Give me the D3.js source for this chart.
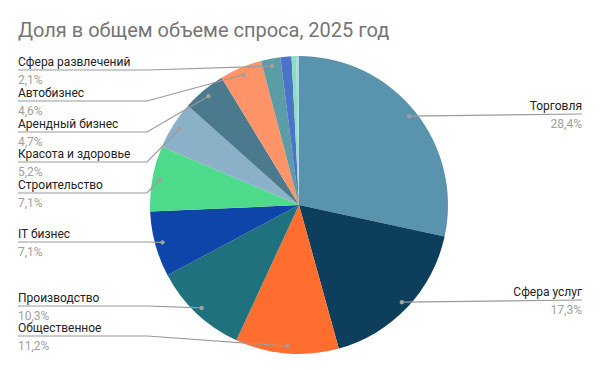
<!DOCTYPE html>
<html>
  <head>
    <meta charset="UTF-8">
    <style>
      body {
        margin: 0;
        background: #fff;
        font-family: Roboto, Arial, sans-serif;
      }
      .title {
        font-size: 20px;
        fill: #757575;
      }
      .name {
        font-size: 12px;
        fill: #222;
      }
      .pct {
        font-size: 12px;
        fill: #a0a0a0;
      }
    </style>
    <script src="https://d3js.org/d3.v7.min.js"></script>
  </head>
  <body>
    <svg id="chart"></svg>

    <script type="text/javascript">
      const categories = [
        'Торговля', 'Сфера услуг', 'Общественное', 'Производство', 'IT бизнес',
        'Строительство', 'Красота и здоровье', 'Арендный бизнес', 'Автобизнес',
        'Сфера развлечений', 'Другое 1', 'Другое 2', 'Другое 3'
      ]
      const shares = [28.4, 17.3, 11.2, 10.3, 7.1, 7.1, 5.2, 4.7, 4.6, 2.1, 1.2, 0.5, 0.3]
      const shareLabels = ['28,4%', '17,3%', '11,2%', '10,3%', '7,1%', '7,1%', '5,2%', '4,7%', '4,6%', '2,1%', '', '', '']
      const sliceColors = [
        '#5a93ad', '#0d3f5c', '#ff6d2f', '#1f727d', '#0e45a8', '#4ddb8b', '#8ab1c7',
        '#4b7a8e', '#ff9468', '#5c9ca6', '#4b74c9', '#8ae0b8', '#a7d6e6'
      ]

      // where the label underline sits (y), left or right side; null = no label
      const labelLayout = [
        { side: 'right', y: 114 },
        { side: 'right', y: 300 },
        { side: 'left', y: 336 },
        { side: 'left', y: 306 },
        { side: 'left', y: 242 },
        { side: 'left', y: 193 },
        { side: 'left', y: 162 },
        { side: 'left', y: 132 },
        { side: 'left', y: 101 },
        { side: 'left', y: 70 },
        null, null, null
      ]

      function getChartConfig() {
        let width = 601
        let height = 371
        let cx = 299
        let cy = 205
        let radius = 149
        let container = d3.select('#chart')
          .attr('width', width)
          .attr('height', height)
        return { width, height, cx, cy, radius, container }
      }

      function drawChart(config) {
        let svg = config.container
        let data = categories.map((c, i) => ({ name: c, value: shares[i], label: shareLabels[i], color: sliceColors[i], layout: labelLayout[i] }))

        svg.append('text')
          .attr('class', 'title')
          .attr('x', 18)
          .attr('y', 37)
          .text('Доля в общем объеме спроса, 2025 год')

        let pie = d3.pie()
          .sort(null)
          .value(d => d.value)

        let arc = d3.arc()
          .innerRadius(0)
          .outerRadius(config.radius)

        let g = svg.append('g')
          .attr('transform', `translate(${config.cx}, ${config.cy})`)

        let arcs = pie(data)

        g.selectAll('path')
          .data(arcs)
          .enter()
          .append('path')
          .attr('d', arc)
          .attr('fill', d => d.data.color)

        let leftX = 18
        let rightX = 582
        let elbowX = 147
        let k = 0.95

        let labelled = arcs.filter(d => d.data.layout)

        let labels = svg.append('g').attr('class', 'labels')

        labelled.forEach(d => {
          let mid = (d.startAngle + d.endAngle) / 2
          let px = config.cx + k * config.radius * Math.sin(mid)
          let py = config.cy - k * config.radius * Math.cos(mid)
          let ly = d.data.layout.y
          let pts
          if (d.data.layout.side === 'left') {
            pts = [[leftX, ly], [Math.min(elbowX, px), ly], [px, py]]
          } else {
            pts = [[px, py], [rightX, ly]]
          }

          labels.append('path')
            .attr('d', d3.line()(pts))
            .attr('fill', 'none')
            .attr('stroke', '#9a9a9a')
            .attr('stroke-width', 1.2)

          labels.append('circle')
            .attr('cx', px)
            .attr('cy', py)
            .attr('r', 2.2)
            .attr('fill', '#a0a0a0')

          let tx = d.data.layout.side === 'left' ? leftX : rightX
          let anchor = d.data.layout.side === 'left' ? 'start' : 'end'

          labels.append('text')
            .attr('class', 'name')
            .attr('x', tx)
            .attr('y', ly - 4.5)
            .attr('text-anchor', anchor)
            .text(d.data.name)

          labels.append('text')
            .attr('class', 'pct')
            .attr('x', tx)
            .attr('y', ly + 13.5)
            .attr('text-anchor', anchor)
            .text(d.data.label)
        })
      }

      drawChart(getChartConfig())
    </script>
  </body>
</html>
